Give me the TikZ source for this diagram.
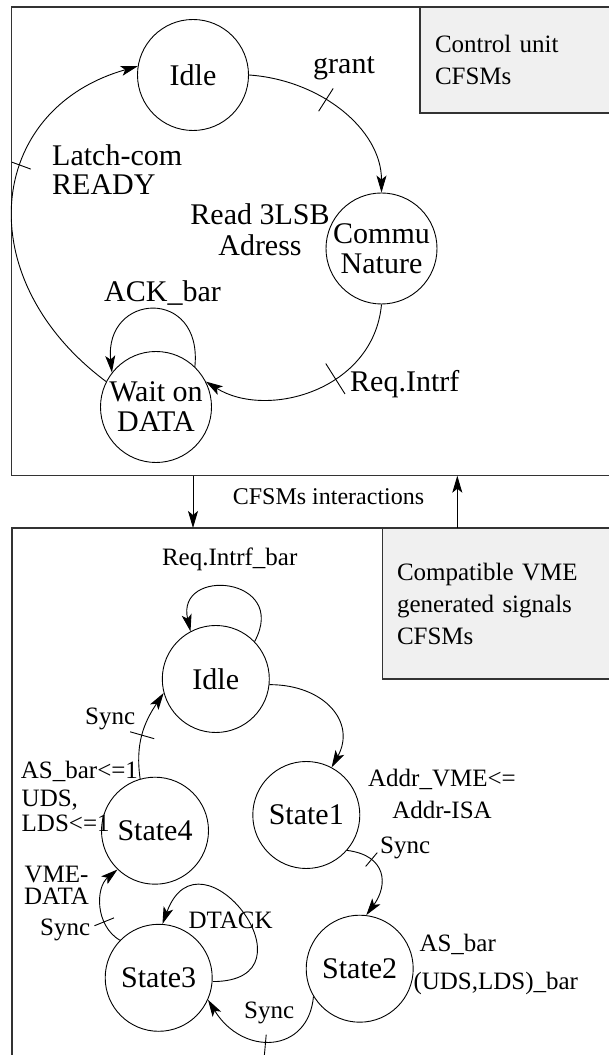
\documentclass[tikz,border=0pt]{standalone}
\usepackage{fontspec}
\setmainfont{Liberation Serif}
\usetikzlibrary{arrows.meta,decorations.markings}

\begin{document}
\begin{tikzpicture}[
  x=1pt,y=1pt,
  fsm/.style={draw,circle,line width=0.9pt,inner sep=0pt,minimum size=#1,
              align=center,font=\fontsize{30}{30}\selectfont},
  fsm/.default=107pt,
  panel/.style={draw=black!80,line width=1.3pt,inner sep=0pt,outer sep=0pt,
              anchor=north west},
  note/.style={panel,fill=black!6,align=left,inner ysep=0pt,
              font=\fontsize{25}{32}\selectfont},
  lbl/.style={inner sep=0pt,align=left,font=\fontsize{30}{29}\selectfont},
  lbs/.style={inner sep=0pt,align=left,font=\fontsize{25}{25}\selectfont},
  flow/.style={-{Stealth[length=17pt,width=10pt,inset=4pt]},line width=0.9pt},
  tk/.style n args={3}{postaction={decorate,decoration={markings,
      mark=at position #1 with {\draw[-] (0pt,#2) -- (0pt,#3);}}}}
]
\useasboundingbox (0,0) rectangle (608,1055);

% the two CFSM panels
\node[panel,minimum width=600pt,minimum height=468.7pt] (ctrlframe) at (11.7,1048) {};
\node[panel,minimum width=600pt,minimum height=540pt] (vmeframe) at (12,527) {};
\node[note,text width=162pt,inner xsep=15pt,minimum height=106pt] (ctrlnote)
  at (420,1048) {Control unit\\CFSMs};
\node[note,text width=200pt,inner xsep=14.7pt,minimum height=151pt] (vmenote)
  at (382.3,527) {Compatible VME\\generated signals\\CFSMs};

% control unit states
\node[fsm=111pt] (idle) at (193,980) {Idle};
\node[fsm=111pt] (commu) at (381.5,806.5) {Commu\\Nature};
\node[fsm=111pt] (wait) at (156,648) {Wait on\\DATA};

\draw[flow,tk={0.42}{-13.5pt}{13.5pt}] (idle.east)
  .. controls +(72,-5) and +(0,63) .. (commu.north);
\draw[flow,tk={0.61}{-10pt}{10pt}] (wait.153)
  .. controls +(-138,103) and +(-152,-43) .. (idle.171);
\draw[flow] (wait.46) .. controls +(8,80) and +(-8,80) .. (wait.142);
\draw[flow,tk={0.4}{-18pt}{18pt}] (commu.south)
  .. controls +(-8,-86) and +(61,-38) .. (wait.27);

\node[lbl,anchor=base west] (grantlbl) at (313,981) {grant};
\node[lbl,anchor=base west] (latchlbl) at (52,860) {Latch-com\\READY};
\node[lbl,anchor=base,align=center,font=\fontsize{30}{31}\selectfont] (readlbl)
  at (260,799) {Read 3LSB\\Adress};
\node[lbl,anchor=base] (acklbl) at (162.5,753) {ACK\_bar};
\node[lbl,anchor=base west] (reqlbl) at (350,663) {Req.Intrf};

% interactions
\coordinate (upx) at (457.3,550);
\draw[flow] (ctrlframe.south -| idle) -- (vmeframe.north -| idle);
\draw[flow] (vmeframe.north -| upx) -- (ctrlframe.south -| upx);
\node[lbs,anchor=base,font=\fontsize{24}{24}\selectfont] (interlbl)
  at (328.5,550) {CFSMs interactions};

% VME signal states
\node[fsm] (idleb) at (215.8,376) {Idle};
\node[fsm] (st1) at (306.3,240) {State1};
\node[fsm] (st2) at (359.7,86.3) {State2};
\node[fsm] (st3) at (158.7,77.2) {State3};
\node[fsm] (st4) at (155,224.3) {State4};

\draw[flow] (idleb.44) .. controls +(35,65) and +(-15,65) .. (idleb.118);
\draw[flow] (idleb.-6) .. controls +(55,0) and +(25,45) .. (st1.62);
\draw[flow,tk={0.3}{-9pt}{9pt}] (st1.-41)
  .. controls +(40,-5) and +(22,30) .. (st2.83);
\draw[flow,tk={0.5}{-6pt}{20pt}] (st2.211)
  .. controls +(-5,-57) and +(35,-57) .. (st3.-24);
\draw[flow] (st3.-4) .. controls +(110,0) and +(38,103) .. (st3.86);
\draw[flow,tk={0.3}{-10.5pt}{10.5pt}] (st3.136)
  .. controls +(-25,15) and +(-22,-18) .. (st4.226);
\draw[flow,tk={0.48}{-12.5pt}{12.5pt}] (st4.106)
  .. controls +(-5,35) and +(-20,-30) .. (idleb.195);

\node[lbs,anchor=base] (reqbarlbl) at (229.7,489) {Req.Intrf\_bar};
\node[lbs,anchor=base west] (sync4lbl) at (85,330) {Sync};
\node[lbs,anchor=base west] (asbarlbl) at (20.7,276.7) {AS\_bar<=1};
\node[lbs,anchor=base west] (udslbl) at (21.5,223.3) {UDS,\\LDS<=1};
\node[lbs,anchor=base,align=center,font=\fontsize{25}{31.6}\selectfont] (addrlbl)
  at (442,236.7) {Addr\_VME<=\\Addr-ISA};
\node[lbs,anchor=base west] (sync1lbl) at (380,201.7) {Sync};
\node[lbs,anchor=base,align=center,font=\fontsize{25}{22}\selectfont] (vmelbl)
  at (56.5,150) {VME-\\DATA};
\node[lbs,anchor=base west] (sync3lbl) at (40,119) {Sync};
\node[lbs,anchor=base west] (dtacklbl) at (188.3,126) {DTACK};
\node[lbs,anchor=base west] (asbar2lbl) at (419.3,103.3) {AS\_bar};
\node[lbs,anchor=base west] (udsbarlbl) at (413.3,65) {(UDS,LDS)\_bar};
\node[lbs,anchor=base west] (sync2lbl) at (244,36.7) {Sync};
\end{tikzpicture}
\end{document}
